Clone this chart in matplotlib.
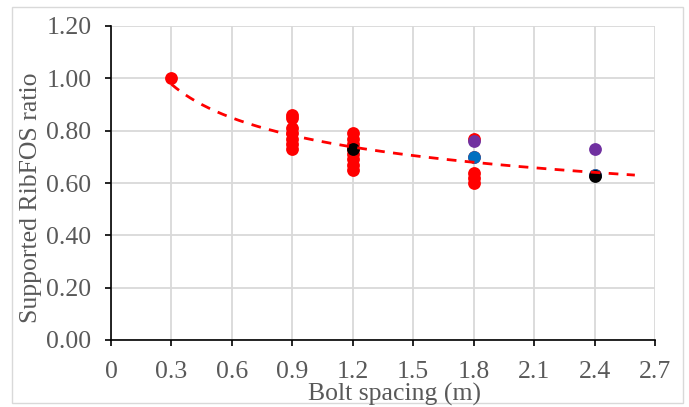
import numpy as np
import matplotlib
matplotlib.use("Agg")
import matplotlib.pyplot as plt
from matplotlib.patches import Rectangle

# Data
red_x = [0.3,
         0.9, 0.9, 0.9, 0.9, 0.9, 0.9, 0.9,
         1.2, 1.2, 1.2, 1.2, 1.2, 1.2, 1.2, 1.2,
         1.8, 1.8, 1.8, 1.8, 1.8,
         2.4]
red_y = [1.00,
         0.86, 0.85, 0.81, 0.79, 0.77, 0.75, 0.73,
         0.79, 0.77, 0.75, 0.73, 0.71, 0.69, 0.67, 0.65,
         0.77, 0.70, 0.64, 0.62, 0.60,
         0.63]
blue_x = [1.8, 2.4]
blue_y = [0.70, 0.63]
purple_x = [1.8, 2.4]
purple_y = [0.76, 0.73]
black_x = [1.2, 2.4]
black_y = [0.73, 0.625]

x_ticks = [0, 0.3, 0.6, 0.9, 1.2, 1.5, 1.8, 2.1, 2.4, 2.7]
x_ticklabels = ["0", "0.3", "0.6", "0.9", "1.2", "1.5", "1.8", "2.1", "2.4", "2.7"]
y_ticks = [0.0, 0.2, 0.4, 0.6, 0.8, 1.0, 1.2]
y_ticklabels = ["0.00", "0.20", "0.40", "0.60", "0.80", "1.00", "1.20"]
trend_range = (0.3, 2.6)

plt.rcParams['font.family'] = ['Liberation Serif', 'DejaVu Serif']
W, H = 689, 407
FS = 18.5
fig = plt.figure(figsize=(W/100, H/100), dpi=100)
ax = fig.add_axes([111/W, 1-340/H, (655-111)/W, (340-26)/H])

ax.set_xlim(0, 2.7)
ax.set_ylim(0, 1.2)
ax.set_xticks(x_ticks)
ax.set_xticklabels(x_ticklabels)
ax.set_yticks(y_ticks)
ax.set_yticklabels(y_ticklabels)
ax.grid(True, color='#d9d9d9', linewidth=1.3)
ax.set_axisbelow(True)
for s in ['top', 'right']:
    ax.spines[s].set_visible(False)
for s in ['left', 'bottom']:
    ax.spines[s].set_color('black')
    ax.spines[s].set_linewidth(1.2)
ax.tick_params(axis='both', direction='out', length=4.0, width=1.2, color='black',
               labelcolor='#595959', labelsize=FS)
ax.tick_params(axis='x', pad=11)
ax.tick_params(axis='y', pad=10)

ms = 85
ax.scatter(red_x, red_y, s=ms, color='#ff0000', zorder=3, linewidths=0)
ax.scatter(blue_x, blue_y, s=ms, color='#0070c0', zorder=4, linewidths=0)
ax.scatter(purple_x, purple_y, s=ms, color='#7030a0', zorder=4, linewidths=0)
ax.scatter(black_x, black_y, s=ms, color='black', zorder=5, linewidths=0)

# power trendline fitted to all points
all_x = np.array(red_x + blue_x + purple_x + black_x)
all_y = np.array(red_y + blue_y + purple_y + black_y)
b, loga = np.polyfit(np.log(all_x), np.log(all_y), 1)
xt = np.linspace(trend_range[0], trend_range[1], 200)
ax.plot(xt, np.exp(loga) * xt**b, color='#ff0000', linestyle=(0, (3.5, 3)),
        linewidth=2.0, zorder=6)

fig.text(395/W, 1-394/H, "Bolt spacing (m)", color='#595959', fontsize=FS,
         ha='center', va='center')
fig.text(31/W, 1-198/H, "Supported RibFOS ratio", color='#595959', fontsize=FS,
         ha='center', va='center', rotation=90)

fig.patches.append(Rectangle((12/W, 1-403/H), (683-12)/W, (403-7)/H,
                             transform=fig.transFigure, fill=False,
                             edgecolor='#d9d9d9', linewidth=1.0))
fig.savefig("out.png", dpi=100)
